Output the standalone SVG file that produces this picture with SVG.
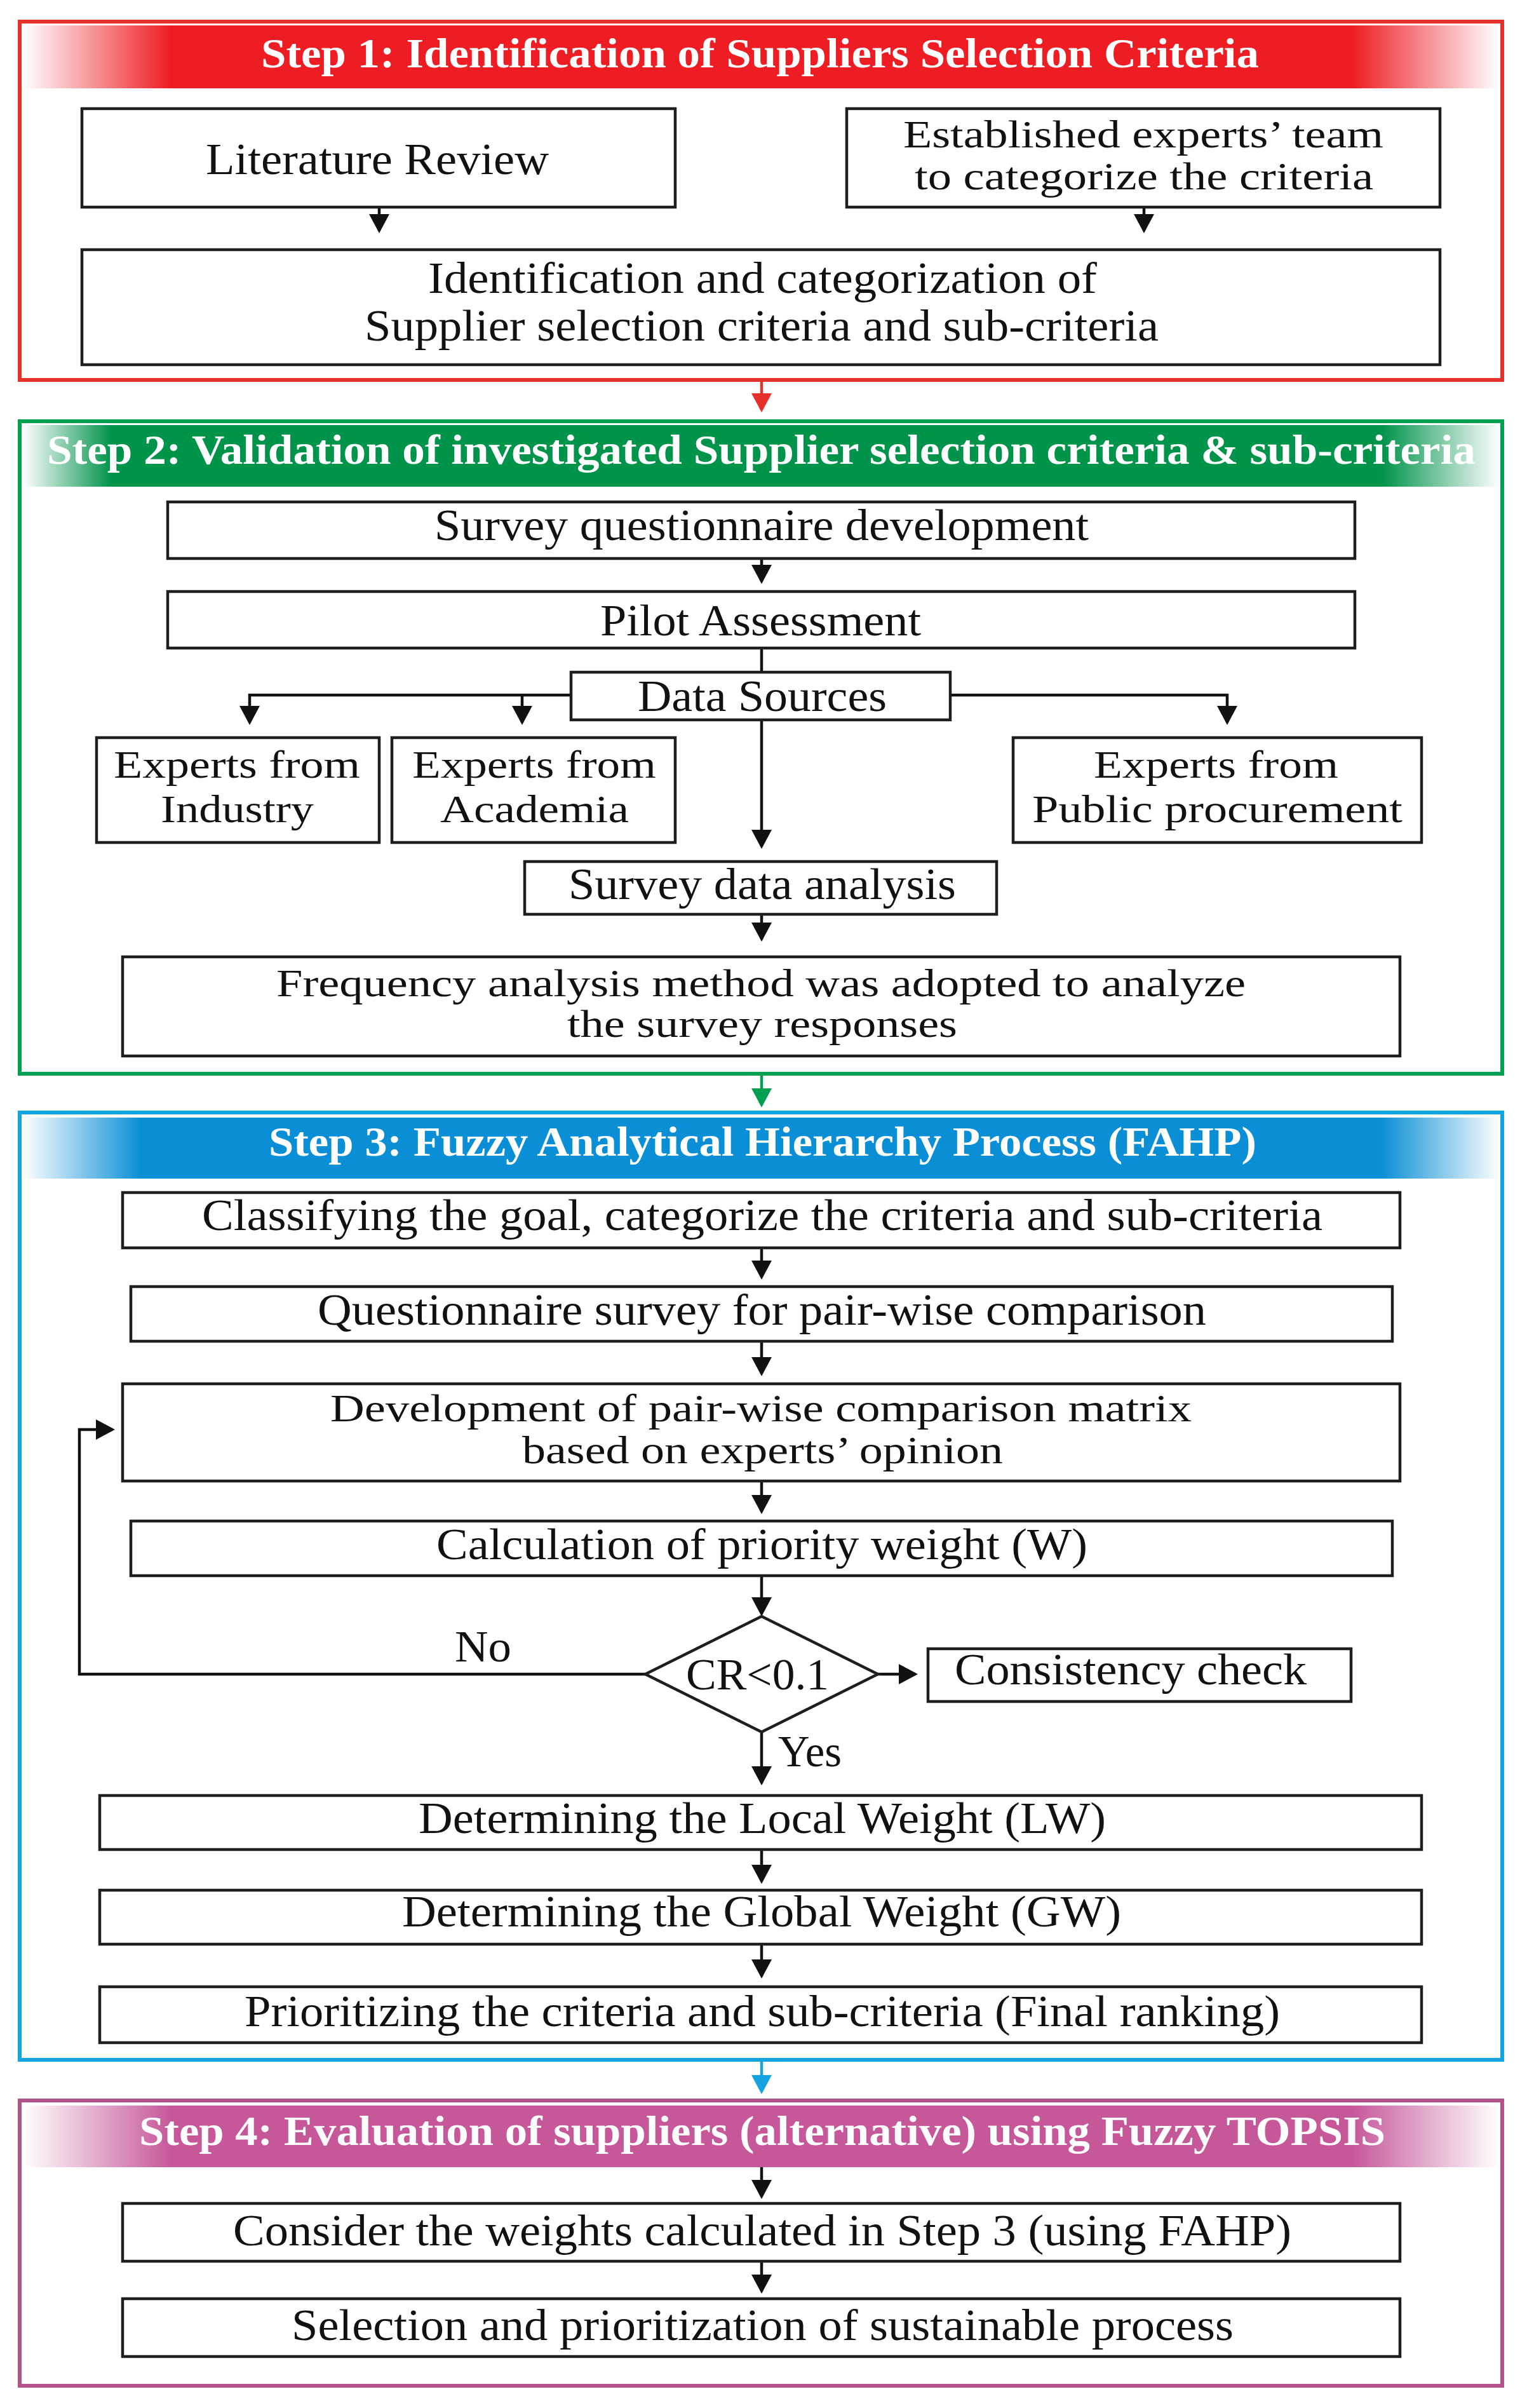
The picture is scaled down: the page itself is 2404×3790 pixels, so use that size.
<svg xmlns="http://www.w3.org/2000/svg" width="2404" height="3790" viewBox="0 0 2404 3790">
<defs>
<style>
.box{fill:#fff;stroke:#1e1e1e;stroke-width:4.5}
.t{font-family:"Liberation Serif","Times New Roman",serif;font-size:70px;fill:#111}
.t2{font-family:"Liberation Serif","Times New Roman",serif;font-size:62px;fill:#111}
.h{font-family:"Liberation Serif","Times New Roman",serif;font-size:66px;font-weight:bold;fill:#fff}
.ln{fill:none;stroke:#111;stroke-width:4.5}
.lnr{fill:none;stroke:#e8302a;stroke-width:4.5}
.lng{fill:none;stroke:#00a050;stroke-width:4.5}
.lnb{fill:none;stroke:#12a3e0;stroke-width:4.5}
</style>
<marker id="ah" markerWidth="32" markerHeight="32" refX="26" refY="16" orient="auto" markerUnits="userSpaceOnUse"><path d="M0,0 L30,16 L0,32 Z" fill="#111"/></marker>
<marker id="ahr" markerWidth="32" markerHeight="32" refX="26" refY="16" orient="auto" markerUnits="userSpaceOnUse"><path d="M0,0 L30,16 L0,32 Z" fill="#e8302a"/></marker>
<marker id="ahg" markerWidth="32" markerHeight="32" refX="26" refY="16" orient="auto" markerUnits="userSpaceOnUse"><path d="M0,0 L30,16 L0,32 Z" fill="#00a050"/></marker>
<marker id="ahb" markerWidth="32" markerHeight="32" refX="26" refY="16" orient="auto" markerUnits="userSpaceOnUse"><path d="M0,0 L30,16 L0,32 Z" fill="#12a3e0"/></marker>
<linearGradient id="gr" x1="36" x2="2361" y1="0" y2="0" gradientUnits="userSpaceOnUse">
<stop offset="0" stop-color="#fff"/><stop offset="0.1" stop-color="#ee1d23"/><stop offset="0.9" stop-color="#ee1d23"/><stop offset="1" stop-color="#fff"/></linearGradient>
<linearGradient id="gg" x1="36" x2="2361" y1="0" y2="0" gradientUnits="userSpaceOnUse">
<stop offset="0" stop-color="#fff"/><stop offset="0.06" stop-color="#00934a"/><stop offset="0.92" stop-color="#00934a"/><stop offset="1" stop-color="#fff"/></linearGradient>
<linearGradient id="gb" x1="36" x2="2361" y1="0" y2="0" gradientUnits="userSpaceOnUse">
<stop offset="0" stop-color="#fff"/><stop offset="0.08" stop-color="#0a8fd6"/><stop offset="0.92" stop-color="#0a8fd6"/><stop offset="1" stop-color="#fff"/></linearGradient>
<linearGradient id="gp" x1="36" x2="2361" y1="0" y2="0" gradientUnits="userSpaceOnUse">
<stop offset="0" stop-color="#fff"/><stop offset="0.1" stop-color="#c6589a"/><stop offset="0.9" stop-color="#c6589a"/><stop offset="1" stop-color="#fff"/></linearGradient>
</defs>
<rect width="2404" height="3790" fill="#fff"/>

<g id="step1">
<rect x="31" y="34" width="2334" height="564" fill="#fff" stroke="#e8302a" stroke-width="6"/>
<rect x="36" y="40" width="2325" height="99" fill="url(#gr)"/>
<text class="h" x="411" y="106" textLength="1571" lengthAdjust="spacingAndGlyphs">Step 1: Identification of Suppliers Selection Criteria</text>
</g>
<g id="step2">
<rect x="31" y="663" width="2334" height="1027" fill="#fff" stroke="#00a050" stroke-width="6"/>
<rect x="36" y="669" width="2325" height="97" fill="url(#gg)"/>
<text class="h" x="74" y="730" textLength="2249" lengthAdjust="spacingAndGlyphs">Step 2: Validation of investigated Supplier selection criteria &amp; sub-criteria</text>
</g>
<g id="step3">
<rect x="31" y="1751" width="2334" height="1491" fill="#fff" stroke="#12a3e0" stroke-width="6"/>
<rect x="36" y="1759" width="2325" height="96" fill="url(#gb)"/>
<text class="h" x="423" y="1819" textLength="1555" lengthAdjust="spacingAndGlyphs">Step 3: Fuzzy Analytical Hierarchy Process (FAHP)</text>
</g>
<g id="step4">
<rect x="31" y="3306" width="2334" height="449" fill="#fff" stroke="#b4508a" stroke-width="6"/>
<rect x="36" y="3314" width="2325" height="97" fill="url(#gp)"/>
<text class="h" x="219" y="3376" textLength="1962" lengthAdjust="spacingAndGlyphs">Step 4: Evaluation of suppliers (alternative) using Fuzzy TOPSIS</text>
</g>

<g id="connectors">
<line class="ln" x1="597" y1="326" x2="597" y2="363" marker-end="url(#ah)"/>
<line class="ln" x1="1801" y1="326" x2="1801" y2="363" marker-end="url(#ah)"/>
<line class="lnr" x1="1199" y1="598" x2="1199" y2="645" marker-end="url(#ahr)"/>
<line class="ln" x1="1199" y1="879" x2="1199" y2="915" marker-end="url(#ah)"/>
<line class="ln" x1="1199" y1="1020" x2="1199" y2="1058"/>
<polyline class="ln" points="899,1094 393,1094 393,1137" marker-end="url(#ah)"/>
<line class="ln" x1="822" y1="1094" x2="822" y2="1137" marker-end="url(#ah)"/>
<polyline class="ln" points="1496,1094 1932,1094 1932,1137" marker-end="url(#ah)"/>
<line class="ln" x1="1199" y1="1133" x2="1199" y2="1332" marker-end="url(#ah)"/>
<line class="ln" x1="1199" y1="1439" x2="1199" y2="1478" marker-end="url(#ah)"/>
<line class="lng" x1="1199" y1="1690" x2="1199" y2="1739" marker-end="url(#ahg)"/>
<line class="ln" x1="1199" y1="1964" x2="1199" y2="2010" marker-end="url(#ah)"/>
<line class="ln" x1="1199" y1="2111" x2="1199" y2="2162" marker-end="url(#ah)"/>
<line class="ln" x1="1199" y1="2331" x2="1199" y2="2379" marker-end="url(#ah)"/>
<line class="ln" x1="1199" y1="2480" x2="1199" y2="2540" marker-end="url(#ah)"/>
<line class="ln" x1="1382" y1="2635" x2="1441" y2="2635" marker-end="url(#ah)"/>
<polyline class="ln" points="1016,2635 125,2635 125,2250 177,2250" marker-end="url(#ah)"/>
<line class="ln" x1="1199" y1="2726" x2="1199" y2="2806" marker-end="url(#ah)"/>
<line class="ln" x1="1199" y1="2911" x2="1199" y2="2961" marker-end="url(#ah)"/>
<line class="ln" x1="1199" y1="3060" x2="1199" y2="3110" marker-end="url(#ah)"/>
<line class="lnb" x1="1199" y1="3242" x2="1199" y2="3292" marker-end="url(#ahb)"/>
<line class="ln" x1="1199" y1="3411" x2="1199" y2="3457" marker-end="url(#ah)"/>
<line class="ln" x1="1199" y1="3559" x2="1199" y2="3606" marker-end="url(#ah)"/>
<text class="t" x="716" y="2615" textLength="89" lengthAdjust="spacingAndGlyphs">No</text>
<text class="t" x="1225" y="2780" textLength="100" lengthAdjust="spacingAndGlyphs">Yes</text>
</g>

<g id="n-literature"><rect class="box" x="129" y="171" width="934" height="155"/>
<text class="t" x="324" y="274" textLength="540" lengthAdjust="spacingAndGlyphs">Literature Review</text></g>
<g id="n-experts-team"><rect class="box" x="1333" y="171" width="934" height="155"/>
<text class="t2" x="1422" y="232" textLength="756" lengthAdjust="spacingAndGlyphs">Established experts’ team</text>
<text class="t2" x="1440" y="298" textLength="722" lengthAdjust="spacingAndGlyphs">to categorize the criteria</text></g>
<g id="n-identification"><rect class="box" x="129" y="393" width="2138" height="181"/>
<text class="t" x="674" y="461" textLength="1053" lengthAdjust="spacingAndGlyphs">Identification and categorization of</text>
<text class="t" x="574" y="536" textLength="1250" lengthAdjust="spacingAndGlyphs">Supplier selection criteria and sub-criteria</text></g>

<g id="n-survey-dev"><rect class="box" x="264" y="790" width="1869" height="89"/>
<text class="t" x="684" y="850" textLength="1030" lengthAdjust="spacingAndGlyphs">Survey questionnaire development</text></g>
<g id="n-pilot"><rect class="box" x="264" y="931" width="1869" height="89"/>
<text class="t" x="945" y="1000" textLength="505" lengthAdjust="spacingAndGlyphs">Pilot Assessment</text></g>
<g id="n-data-sources"><rect class="box" x="899" y="1058" width="597" height="75"/>
<text class="t" x="1004" y="1119" textLength="392" lengthAdjust="spacingAndGlyphs">Data Sources</text></g>
<g id="n-industry"><rect class="box" x="152" y="1161" width="445" height="165"/>
<text class="t2" x="179" y="1224" textLength="388" lengthAdjust="spacingAndGlyphs">Experts from</text>
<text class="t2" x="253" y="1294" textLength="241" lengthAdjust="spacingAndGlyphs">Industry</text></g>
<g id="n-academia"><rect class="box" x="617" y="1161" width="446" height="165"/>
<text class="t2" x="649" y="1224" textLength="384" lengthAdjust="spacingAndGlyphs">Experts from</text>
<text class="t2" x="693" y="1294" textLength="297" lengthAdjust="spacingAndGlyphs">Academia</text></g>
<g id="n-public"><rect class="box" x="1595" y="1161" width="643" height="165"/>
<text class="t2" x="1722" y="1224" textLength="385" lengthAdjust="spacingAndGlyphs">Experts from</text>
<text class="t2" x="1625" y="1294" textLength="583" lengthAdjust="spacingAndGlyphs">Public procurement</text></g>
<g id="n-survey-analysis"><rect class="box" x="826" y="1356" width="743" height="83"/>
<text class="t" x="895" y="1415" textLength="610" lengthAdjust="spacingAndGlyphs">Survey data analysis</text></g>
<g id="n-frequency"><rect class="box" x="193" y="1506" width="2011" height="156"/>
<text class="t2" x="435" y="1568" textLength="1526" lengthAdjust="spacingAndGlyphs">Frequency analysis method was adopted to analyze</text>
<text class="t2" x="893" y="1632" textLength="614" lengthAdjust="spacingAndGlyphs">the survey responses</text></g>

<g id="n-classifying"><rect class="box" x="193" y="1877" width="2011" height="87"/>
<text class="t" x="318" y="1936" textLength="1764" lengthAdjust="spacingAndGlyphs">Classifying the goal, categorize the criteria and sub-criteria</text></g>
<g id="n-questionnaire"><rect class="box" x="206" y="2025" width="1986" height="86"/>
<text class="t" x="500" y="2085" textLength="1399" lengthAdjust="spacingAndGlyphs">Questionnaire survey for pair-wise comparison</text></g>
<g id="n-development"><rect class="box" x="193" y="2178" width="2011" height="153"/>
<text class="t2" x="520" y="2237" textLength="1356" lengthAdjust="spacingAndGlyphs">Development of pair-wise comparison matrix</text>
<text class="t2" x="822" y="2303" textLength="757" lengthAdjust="spacingAndGlyphs">based on experts’ opinion</text></g>
<g id="n-calculation"><rect class="box" x="206" y="2394" width="1986" height="86"/>
<text class="t" x="687" y="2454" textLength="1025" lengthAdjust="spacingAndGlyphs">Calculation of priority weight (W)</text></g>
<g id="n-cr"><polygon points="1199,2544 1382,2635 1199,2726 1016,2635" fill="#fff" stroke="#1e1e1e" stroke-width="4.5"/>
<text class="t" x="1080" y="2659" textLength="225" lengthAdjust="spacingAndGlyphs">CR&lt;0.1</text></g>
<g id="n-consistency"><rect class="box" x="1461" y="2595" width="666" height="83"/>
<text class="t" x="1503" y="2651" textLength="554" lengthAdjust="spacingAndGlyphs">Consistency check</text></g>
<g id="n-local"><rect class="box" x="157" y="2826" width="2081" height="85"/>
<text class="t" x="659" y="2885" textLength="1082" lengthAdjust="spacingAndGlyphs">Determining the Local Weight (LW)</text></g>
<g id="n-global"><rect class="box" x="157" y="2975" width="2081" height="85"/>
<text class="t" x="633" y="3032" textLength="1132" lengthAdjust="spacingAndGlyphs">Determining the Global Weight (GW)</text></g>
<g id="n-final"><rect class="box" x="157" y="3127" width="2081" height="88"/>
<text class="t" x="385" y="3189" textLength="1630" lengthAdjust="spacingAndGlyphs">Prioritizing the criteria and sub-criteria (Final ranking)</text></g>

<g id="n-consider"><rect class="box" x="193" y="3468" width="2011" height="91"/>
<text class="t" x="367" y="3534" textLength="1666" lengthAdjust="spacingAndGlyphs">Consider the weights calculated in Step 3 (using FAHP)</text></g>
<g id="n-selection"><rect class="box" x="193" y="3618" width="2011" height="91"/>
<text class="t" x="459" y="3683" textLength="1483" lengthAdjust="spacingAndGlyphs">Selection and prioritization of sustainable process</text></g>
</svg>
